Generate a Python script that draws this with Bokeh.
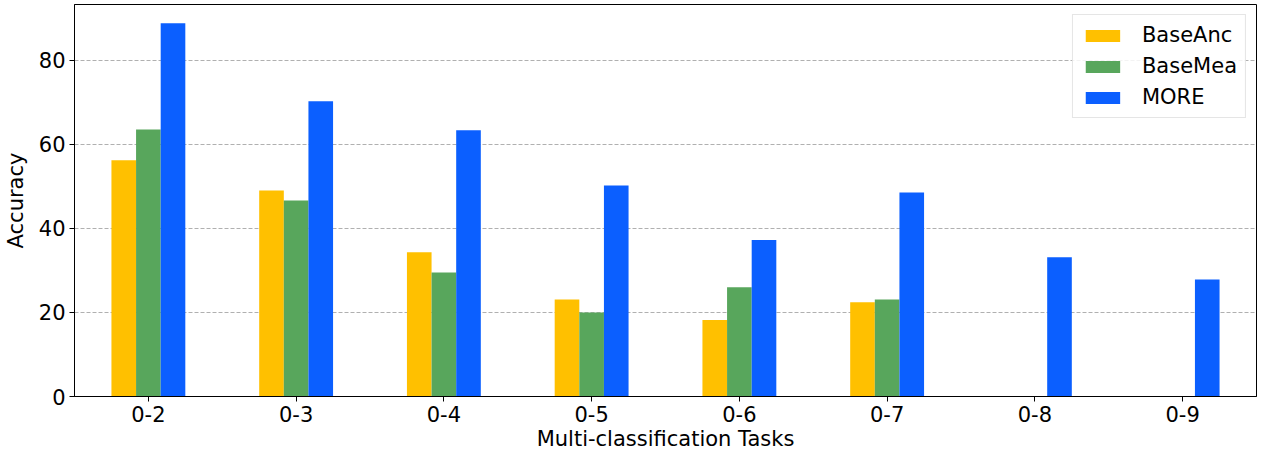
from bokeh.plotting import figure
from bokeh.models import FactorRange, Range1d, FixedTicker, Legend, LegendItem
from bokeh.transform import dodge
from bokeh.embed import file_html
from bokeh.resources import INLINE
from bokeh.models import ColumnDataSource

tasks = ["0-2", "0-3", "0-4", "0-5", "0-6", "0-7", "0-8", "0-9"]
base_anc = [56.2, 49.0, 34.3, 23.1, 18.2, 22.4, 0.0, 0.0]
base_mea = [63.5, 46.6, 29.5, 20.0, 26.0, 23.1, 0.0, 0.0]
more = [88.8, 70.2, 63.3, 50.2, 37.2, 48.5, 33.1, 27.8]
series_names = ["BaseAnc", "BaseMea", "MORE"]
colors = ["#FFC000", "#58A65C", "#0B5FFF"]

source = ColumnDataSource(dict(tasks=tasks, BaseAnc=base_anc, BaseMea=base_mea, MORE=more))

FONT = "DejaVu Sans"
FS = "21px"
p = figure(
    x_range=FactorRange(factors=tasks, range_padding=0),
    y_range=Range1d(0, max(more) * 1.05),
    width=1260, height=454,
    output_backend="svg", toolbar_location=None,
    min_border_left=72, min_border_right=4, min_border_top=4, min_border_bottom=58,
)

w = 0.5 / 3
renderers = []
for i, (name, col) in enumerate(zip(series_names, colors)):
    r = p.vbar(x=dodge("tasks", (i - 1) * w, range=p.x_range), top=name, width=w,
               source=source, fill_color=col, line_color=None)
    renderers.append(r)

legend = Legend(items=[LegendItem(label=n, renderers=[r]) for n, r in zip(series_names, renderers)],
                location="top_right")
legend.label_text_font = FONT
legend.label_text_font_size = FS
legend.label_text_color = "black"
legend.glyph_width = 43
legend.glyph_height = 15
legend.label_standoff = 18
legend.label_height = 21
legend.spacing = 7
legend.padding = 8
legend.margin = 10
legend.border_line_color = "#cccccc"
legend.border_line_width = 1
legend.background_fill_alpha = 0.85
p.add_layout(legend)

p.outline_line_color = "black"
p.outline_line_width = 1

p.xgrid.grid_line_color = None
p.ygrid.grid_line_color = "#b0b0b0"
p.ygrid.grid_line_dash = "4 2"
p.ygrid.grid_line_width = 1

p.yaxis.ticker = FixedTicker(ticks=[0, 20, 40, 60, 80])
p.xaxis.axis_label = "Multi-classification Tasks"
p.yaxis.axis_label = "Accuracy"
for ax in (p.xaxis, p.yaxis):
    ax.axis_label_text_font = FONT
    ax.axis_label_text_font_size = FS
    ax.axis_label_text_font_style = "normal"
    ax.major_label_text_font = FONT
    ax.major_label_text_font_size = FS
    ax.major_label_text_color = "black"
    ax.axis_label_text_color = "black"
    ax.axis_line_color = "black"
    ax.major_tick_line_color = "black"
    ax.major_tick_out = 5
    ax.major_tick_in = 0
    ax.minor_tick_line_color = None
    ax.major_label_standoff = 4
p.xaxis.axis_label_standoff = 2
p.yaxis.axis_label_standoff = 8
p.xaxis.group_text_font_size = "0px"

open("out.html", "w").write(file_html(p, INLINE))
